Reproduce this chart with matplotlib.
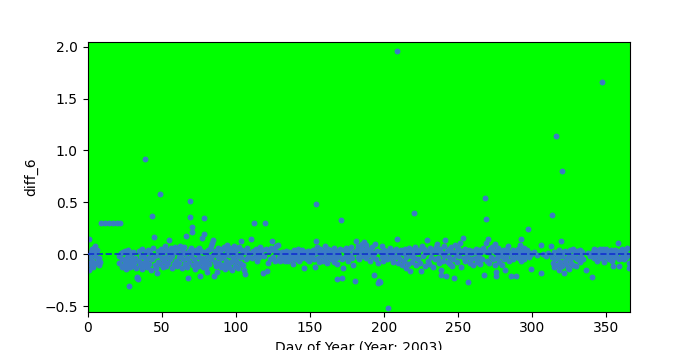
import matplotlib
matplotlib.use('Agg')
import matplotlib.pyplot as plt

# (day of year, diff_6)
jan = [(0.5, -0.08), (1.2, -0.15), (1.3, 0.147), (1.8, -0.03), (2.2, 0.02), (2.5, -0.10), (2.8, 0.05),
       (3.2, -0.06), (3.5, 0.03), (4.0, -0.12), (4.3, 0.06), (4.8, 0.08), (5.2, -0.02), (5.6, 0.02),
       (6.0, -0.08), (6.4, 0.04), (7.0, -0.05), (7.5, -0.10), (8.0, -0.04), (8.6, -0.07),
       (9.4, 0.30), (12.1, 0.30), (14.8, 0.30), (17.5, 0.30), (20.2, 0.30), (22.0, 0.30),
       (21.0, -0.02), (21.5, -0.08), (22.5, 0.01), (23.0, -0.12), (23.5, -0.05), (24.0, 0.02),
       (24.5, -0.10), (25.0, -0.06), (25.5, 0.03), (26.0, -0.14), (26.5, -0.03), (27.0, -0.09),
       (27.5, 0.04), (27.9, -0.31), (28.3, -0.07), (28.8, -0.12), (29.2, 0.00), (29.7, -0.05),
       (30.2, -0.11), (30.7, 0.02), (31.2, -0.08)]
feb = [(32, -0.04), (32.5, -0.13), (33.2, -0.23), (33.6, -0.22), (34, -0.24), (34.5, -0.06), (35, 0.03),
       (35.5, -0.10), (36, -0.02), (36.5, -0.14), (37, 0.05), (37.5, -0.08), (38, -0.03), (38.5, 0.92),
       (38.8, -0.11), (39.3, 0.02), (39.8, -0.06), (40.3, -0.12), (40.8, 0.04), (41.3, -0.04),
       (41.8, -0.09), (42.3, 0.01), (42.8, -0.15), (43.4, 0.37), (43.8, -0.05), (44.3, 0.06),
       (44.8, 0.17), (45.3, -0.10), (45.8, -0.02), (46.3, -0.13), (46.8, -0.18), (47.3, 0.03),
       (47.8, -0.07), (48.3, -0.01), (48.8, 0.58), (49.2, -0.09), (49.7, 0.05), (50.2, -0.04),
       (50.7, -0.12), (51.2, 0.02), (51.7, -0.06), (52.2, 0.08), (52.7, -0.03), (53.2, -0.11),
       (53.7, 0.04), (54.2, -0.08), (54.9, 0.14), (55.3, 0.01), (55.8, -0.05), (56.3, 0.06),
       (56.8, -0.13), (57.3, -0.02), (57.8, 0.03), (58.3, -0.09), (58.8, 0.07)]
mar = [(59.5, -0.06), (60, 0.02), (60.5, -0.11), (61, 0.05), (61.5, -0.03), (62, -0.08), (62.5, 0.08),
       (63, -0.01), (63.5, -0.13), (64, 0.04), (64.5, -0.05), (65, 0.07), (65.5, -0.09), (66, 0.01),
       (66.4, 0.18), (66.8, -0.04), (67.3, -0.12), (67.7, -0.23), (68.2, 0.03), (68.6, -0.07),
       (69, 0.51), (69.1, 0.36), (69.5, -0.02), (70, 0.06), (70.4, 0.26), (70.5, 0.21), (70.9, -0.10),
       (71.4, 0.02), (71.9, -0.05), (72.4, -0.14), (72.9, 0.04), (73.4, -0.08), (73.9, 0.01),
       (74.4, -0.11), (74.9, 0.06), (75.4, -0.03), (75.8, -0.21), (76.3, -0.07), (76.8, 0.03),
       (77.2, 0.16), (77.7, -0.12), (78.2, -0.04), (78.5, 0.35), (78.6, 0.20), (78.7, -0.09),
       (79.2, 0.02), (79.7, -0.06), (80.2, -0.13), (80.5, -0.17), (81, 0.04), (81.5, -0.02),
       (82, -0.09), (82.5, 0.05), (83, -0.05), (83.5, 0.08), (84, 0.11), (84.5, -0.01), (85, 0.14),
       (85.2, -0.21), (85.7, -0.07), (86.2, 0.03), (86.7, -0.11), (87.3, -0.17), (87.8, -0.03),
       (88.3, 0.06), (88.8, -0.08), (89.3, 0.01), (89.8, -0.12)]
apr = [(90.3, -0.04), (90.8, 0.05), (91.3, -0.10), (91.8, -0.02), (92.3, 0.07), (92.8, -0.14),
       (93.3, -0.06), (93.8, 0.02), (94, 0.09), (94.3, -0.09), (94.8, 0.04), (95.3, -0.12),
       (95.8, -0.01), (96.3, 0.06), (96.8, -0.07), (97.3, -0.15), (97.8, 0.03), (98.3, -0.04),
       (98.8, 0.08), (99.3, -0.11), (99.8, 0.01), (100.3, -0.06), (100.8, 0.05), (101.3, -0.13),
       (101.8, -0.02), (102.3, 0.07), (102.8, -0.08), (103.4, 0.13), (103.8, -0.03), (104.3, 0.04),
       (104.8, -0.10), (105.5, -0.15), (106, -0.19), (106.5, 0.02), (107, -0.05), (107.8, 0.06),
       (108.5, -0.03), (109.2, 0.01), (110, 0.15), (110.7, -0.04), (111.4, 0.03), (112.2, 0.30),
       (112.8, -0.02), (113.5, 0.05), (114.2, -0.06), (115, 0.02), (115.8, -0.03), (116.5, 0.07),
       (117.2, -0.01), (118, 0.04), (118.3, -0.18), (119, -0.02), (119.6, 0.30), (120.2, 0.05)]
may = [(121, -0.16), (121.7, -0.08), (122.3, 0.03), (123, -0.05), (123.7, 0.06), (124.4, 0.13),
       (125, -0.03), (125.7, 0.04), (126.3, -0.06), (127, 0.08), (127.7, 0.02), (128.5, 0.09),
       (129, -0.04), (129.5, 0.01), (130, -0.06), (130.5, -0.02), (131, 0.02), (131.5, -0.05),
       (132, -0.03), (132.5, 0.01), (133, -0.06), (133.5, -0.02), (134, 0.03), (134.5, -0.04),
       (135, -0.01), (135.5, -0.06), (136, 0.02), (136.5, -0.03), (137, -0.05), (137.5, 0.01),
       (138, -0.02), (138.6, -0.09), (139, 0.04), (139.5, -0.04), (140, -0.01), (140.5, 0.03),
       (141, -0.05), (141.5, -0.02), (142, 0.05), (142.5, -0.03), (143, -0.06), (143.5, 0.01),
       (144, -0.02), (144.5, 0.04), (145, -0.04), (146, -0.13), (146.5, 0.02), (147, -0.03),
       (147.5, 0.01), (148, -0.05), (148.5, 0.03), (149, -0.02), (149.5, -0.06), (150, 0.02),
       (150.5, -0.04), (151, 0.01)]
jun = [(151.5, -0.03), (152, 0.04), (152.5, -0.05), (153, 0.01), (153.4, -0.12), (154, 0.13),
       (154.1, 0.48), (154.7, 0.07), (155.2, -0.04), (155.8, 0.02), (156.5, -0.07), (157, 0.05),
       (157.6, -0.02), (158.2, 0.03), (158.8, -0.06), (159.4, 0.01), (160, 0.08), (160.6, -0.04),
       (161.2, 0.03), (161.8, -0.08), (162.4, 0.05), (163, -0.02), (163.6, 0.04), (164.2, -0.05),
       (164.8, 0.02), (165.4, -0.03), (166, 0.06), (166.6, -0.07), (167.2, 0.01), (167.8, -0.04),
       (168.3, -0.09), (168.3, -0.24), (169, 0.03), (169.6, -0.02), (170.2, 0.05), (171, 0.33),
       (171.6, -0.23), (172, -0.05), (172.3, -0.13), (173, 0.04), (173.6, -0.03), (174.2, 0.06),
       (174.8, -0.02), (175.4, 0.03), (176, -0.06), (176.6, 0.05), (177.2, -0.01), (177.8, 0.07),
       (178.4, -0.04), (179, -0.10), (179.6, 0.02), (180.4, -0.26), (181, 0.13)]
jul = [(181.6, 0.04), (182.2, -0.03), (182.8, 0.08), (183.4, -0.05), (184, 0.02), (184.6, 0.06),
       (185.2, 0.10), (185.8, -0.02), (186.4, 0.12), (187, 0.04), (187.6, 0.09), (188.2, -0.04),
       (188.8, 0.05), (189.4, -0.01), (190, 0.03), (190.6, -0.06), (191.2, 0.02), (191.8, 0.07),
       (192.4, -0.03), (193.2, -0.20), (193.6, 0.01), (194, 0.10), (194.6, -0.05), (195.2, 0.03),
       (195.8, -0.08), (196.2, -0.28), (196.8, -0.26), (197.5, -0.27), (198.2, 0.02), (198.8, -0.03),
       (199, 0.08), (199.6, -0.06), (200.2, 0.04), (200.8, -0.01), (201.4, 0.03), (202, -0.05),
       (202.7, -0.515), (203.2, 0.02), (203.8, -0.04), (204.4, 0.06), (205, -0.02), (205.6, 0.01),
       (206.2, -0.07), (206.8, 0.03), (207.4, -0.03), (208, 0.05), (208.5, 1.96), (209, 0.15),
       (209.3, -0.02), (209.8, -0.08), (210.4, 0.02), (211, -0.05), (211.6, 0.04), (212.2, -0.10)]
aug = [(212.8, 0.01), (213.4, -0.06), (214, 0.05), (214.8, -0.13), (215.2, -0.03), (215.8, 0.03),
       (216.4, -0.09), (217, 0.06), (217.5, -0.16), (218, -0.02), (218.6, 0.04), (219.2, -0.07),
       (219.8, 0.01), (220.2, 0.40), (220.6, -0.04), (221.2, 0.07), (221.8, -0.10), (222.4, 0.02),
       (223, -0.05), (223.6, 0.04), (224.2, -0.08), (224.9, -0.16), (225.6, 0.08), (226.2, -0.02),
       (226.8, 0.05), (227.4, -0.11), (228, 0.01), (228.9, 0.14), (229.4, -0.06), (230, 0.03),
       (230.6, -0.09), (231.2, 0.06), (231.8, -0.03), (232.4, 0.02), (233, -0.12), (233.6, 0.04),
       (234.2, -0.05), (234.8, 0.07), (235.7, 0.10), (236.2, -0.04), (236.8, 0.02), (237.4, -0.08),
       (238, 0.05), (238.4, -0.15), (238.4, -0.20), (239, 0.01), (239.6, -0.06), (240.2, 0.08),
       (240.8, -0.02), (241.1, 0.14), (241.8, -0.21), (242.4, 0.03), (243, -0.07)]
sep = [(243.6, 0.05), (244.2, -0.03), (244.5, -0.09), (245, 0.07), (245.6, -0.11), (246.2, 0.02),
       (246.8, -0.05), (247.2, -0.23), (247.8, 0.09), (248.4, -0.01), (249, 0.04), (249.6, -0.07),
       (250.2, 0.06), (250.8, -0.02), (251.3, 0.11), (251.9, -0.12), (252.5, 0.03), (253.3, 0.16),
       (253.8, -0.04), (254.4, 0.05), (255, -0.06), (255.6, 0.02), (256.2, -0.03), (256.7, -0.27),
       (257.2, 0.04), (257.8, -0.08), (258.4, 0.01), (259, -0.05), (259.6, 0.03), (260.2, -0.10),
       (260.8, 0.02), (261.4, -0.04), (262, 0.05), (262.6, -0.07), (263.2, 0.01), (263.8, -0.03),
       (264.4, 0.04), (265, -0.09), (265.6, 0.02), (266.2, -0.05), (266.8, 0.06), (267.4, -0.20),
       (267.8, 0.03), (268.1, 0.54), (268.8, 0.34), (268.8, 0.11), (269.4, -0.06), (270, 0.15),
       (270.5, 0.02), (271, -0.08), (271.6, 0.05), (272.2, -0.03), (272.8, 0.07)]
oct_ = [(273.4, -0.05), (274, 0.03), (274.6, -0.10), (275.2, 0.10), (275.5, -0.17), (275.5, -0.21),
        (276, 0.01), (276.6, -0.04), (277.2, 0.06), (277.8, -0.07), (278.4, 0.02), (279, -0.02),
        (279.7, -0.10), (280.2, 0.04), (280.8, -0.05), (281.6, -0.15), (282, 0.03), (282.6, -0.03),
        (283.2, 0.05), (283.6, 0.08), (284.2, -0.06), (284.8, 0.01), (285.6, -0.21), (286.2, -0.02),
        (286.8, 0.04), (287.4, -0.05), (288, 0.02), (289, -0.21), (289.6, -0.03), (290.2, 0.05),
        (290.8, 0.01), (291.4, -0.04), (292, 0.09), (292.4, 0.15), (292.4, -0.06), (293, 0.03),
        (293.6, -0.02), (294.2, 0.06), (294.8, -0.05), (295.4, 0.02), (296, -0.01), (296.6, 0.04),
        (297.2, 0.24), (297.8, -0.03), (298.4, 0.01), (299.2, -0.14), (299.5, 0.00), (301, 0.02),
        (303, -0.01), (305.9, 0.09), (305.9, -0.18)]
nov = [(307, 0.00), (309, -0.02), (311, 0.01), (312.6, 0.08), (313.3, 0.38), (313.6, -0.03),
       (314, -0.08), (314.4, 0.02), (315, -0.12), (315.5, -0.05), (316, 1.14), (316.2, 0.01),
       (316.8, -0.10), (317.3, -0.03), (317.8, -0.15), (318.3, 0.04), (318.8, -0.07), (319.4, 0.13),
       (319.8, -0.02), (320, 0.80), (320.4, -0.11), (321, 0.02), (321.4, -0.18), (321.9, -0.06),
       (322.4, 0.03), (322.9, -0.09), (323.4, -0.04), (323.9, -0.13), (324.4, 0.01), (324.8, -0.14),
       (325.3, -0.05), (325.8, 0.04), (326.3, -0.08), (326.8, -0.02), (327.3, 0.05), (327.8, -0.10),
       (328.3, -0.03), (328.8, 0.02), (329.5, -0.11), (330, -0.05), (330.5, 0.03), (331, -0.04),
       (331.5, 0.01), (332, -0.07), (332.5, 0.04), (333, -0.02), (333.6, 0.02), (334.2, -0.05)]
dec = [(336.3, -0.15), (337.5, 0.01), (339, -0.02), (340.3, -0.22), (341, 0.02), (341.6, -0.04),
       (342, 0.05), (342.6, -0.01), (343.2, 0.04), (343.8, -0.06), (344.4, 0.03), (345, -0.02),
       (345.6, 0.05), (346.2, -0.04), (346.8, 0.02), (347, 1.66), (347.4, -0.03), (348, 0.05),
       (348.6, -0.07), (349.2, 0.01), (349.8, 0.05), (350.4, -0.03), (351, 0.02), (351.6, -0.05),
       (352.2, 0.03), (352.8, -0.02), (353.4, 0.04), (354, -0.06), (354.5, -0.11), (355, 0.01),
       (355.6, -0.03), (356.2, 0.04), (356.8, -0.02), (357.4, 0.03), (357.9, 0.11), (358.3, -0.05),
       (358.6, -0.11), (359.2, 0.02), (359.8, -0.04), (360.4, 0.05), (361, -0.02), (361.6, 0.01),
       (362.2, -0.05), (362.8, 0.03), (363.4, -0.03), (364, 0.06), (364.6, -0.01), (365, -0.08),
       (365.4, -0.13)]

meses = [jan, feb, mar, apr, may, jun, jul, aug, sep, oct_, nov, dec]
dias = [d for m in meses for d, v in m]
diff6 = [v for m in meses for d, v in m]

fig, ax = plt.subplots(figsize=(7, 3.5), dpi=100)
ax.set_facecolor('#00ff00')
ax.scatter(dias, diff6, s=18, color='#3a7cc4', linewidths=0, zorder=2)
ax.axhline(0, color='#1030d0', linestyle='--', linewidth=1.2, zorder=3)
ax.set_xlim(0, 366)
ax.set_ylim(-0.551, 2.045)
ax.set_xlabel('Day of Year (Year: 2003)')
ax.set_ylabel('diff_6')
fig.savefig('out.png', dpi=100)
